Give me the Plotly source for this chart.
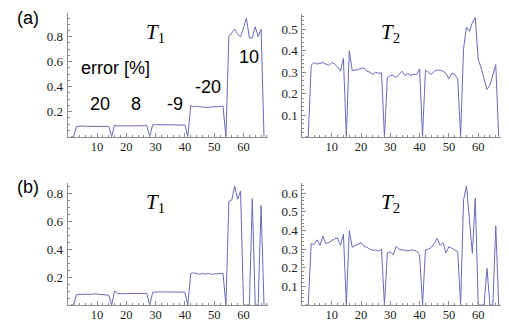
import plotly.graph_objects as go

# The page body has an 8px default margin, so the figure is offset by 8px.
OFF = 8
W, H = 509 - OFF, 322 - OFF

idx = list(range(1, 68))

t1_a = [0, 0,
        0.082, 0.085, 0.085, 0.083, 0.083, 0.085, 0.084, 0.087, 0.083, 0.082, 0.082, 0.082,
        0,
        0.092, 0.086, 0.088, 0.086, 0.087, 0.086, 0.087, 0.087, 0.088, 0.088, 0.088, 0.088,
        0,
        0.095, 0.097, 0.097, 0.097, 0.097, 0.097, 0.097, 0.097, 0.097, 0.096, 0.095, 0.093,
        0,
        0.25, 0.24, 0.245, 0.24, 0.235, 0.235, 0.235, 0.24, 0.24, 0.24, 0.24, 0.245,
        0,
        0.80, 0.83, 0.86, 0.82, 0.80, 0.87, 0.95, 0.79, 0.79, 0.88, 0.80, 0.86,
        0]

t2_a = [0, 0,
        0.333, 0.345, 0.338, 0.340, 0.345, 0.338, 0.332, 0.345, 0.338, 0.325, 0.305, 0.365,
        0,
        0.40, 0.308, 0.31, 0.312, 0.318, 0.32, 0.305, 0.30, 0.29, 0.30, 0.295, 0.298,
        0,
        0.275, 0.285, 0.285, 0.275, 0.29, 0.305, 0.285, 0.295, 0.285, 0.29, 0.29, 0.315,
        0,
        0.31, 0.30, 0.29, 0.305, 0.31, 0.31, 0.305, 0.295, 0.27, 0.295, 0.29, 0.27,
        0,
        0.41, 0.51, 0.49, 0.53, 0.555, 0.36, 0.32, 0.27, 0.22, 0.24, 0.29, 0.335,
        0]

t1_b = [0, 0,
        0.075, 0.077, 0.077, 0.077, 0.077, 0.075, 0.080, 0.078, 0.072, 0.072, 0.072, 0.070,
        0,
        0.10, 0.082, 0.080, 0.080, 0.080, 0.082, 0.083, 0.083, 0.085, 0.085, 0.085, 0.083,
        0,
        0.090, 0.093, 0.095, 0.094, 0.094, 0.093, 0.093, 0.093, 0.093, 0.093, 0.093, 0.092,
        0,
        0.225, 0.23, 0.225, 0.22, 0.225, 0.222, 0.225, 0.22, 0.222, 0.222, 0.225, 0.225,
        0,
        0.74, 0.75, 0.85, 0.755, 0.815, 0, 0, 0, 0.76, 0, 0, 0.71,
        0]

t2_b = [0, 0,
        0.33, 0.325, 0.35, 0.32, 0.37, 0.33, 0.335, 0.345, 0.355, 0.36, 0.32, 0.38,
        0,
        0.40, 0.31, 0.32, 0.325, 0.335, 0.315, 0.31, 0.30, 0.295, 0.295, 0.29, 0.30,
        0,
        0.28, 0.285, 0.27, 0.315, 0.30, 0.295, 0.295, 0.29, 0.295, 0.295, 0.29, 0.27,
        0,
        0.296, 0.30, 0.31, 0.33, 0.358, 0.32, 0.335, 0.28, 0.313, 0.305, 0.296, 0.287,
        0,
        0.565, 0.64, 0.46, 0.278, 0.573, 0, 0, 0, 0.197, 0, 0, 0.425,
        0]

x_ticks = [10, 20, 30, 40, 50, 60]
y_ticks_t1 = [0.2, 0.4, 0.6, 0.8]
y_ticks_t2a = [0.1, 0.2, 0.3, 0.4, 0.5]
y_ticks_t2b = [0.1, 0.2, 0.3, 0.4, 0.5, 0.6]
error_labels = ["20", "8", "-9", "-20", "10"]

LINE = "#6a6abb"
AX = "#8c8c8c"


def px_x(p):
    return (p - OFF) / W


def px_y(p):
    return 1 - (p - OFF) / H


panels = [
    (t1_a, (67.7, 268.4), (13, 136.7), 0.99, y_ticks_t1, 0.05),
    (t2_a, (302.4, 503.1), (14, 136.7), 0.571, y_ticks_t2a, 0.02),
    (t1_b, (67.7, 268.4), (182.7, 305), 0.874, y_ticks_t1, 0.05),
    (t2_b, (302.4, 503.1), (182.7, 305), 0.657, y_ticks_t2b, 0.02),
]

fig = go.Figure()
layout = {}
for i, (ser, (x0, x1), (ytop, ybot), ymax, yt, ymin_dt) in enumerate(panels, start=1):
    sfx = "" if i == 1 else str(i)
    fig.add_trace(go.Scatter(x=idx, y=ser, mode="lines",
                             line=dict(color=LINE, width=1),
                             xaxis="x" + sfx, yaxis="y" + sfx,
                             showlegend=False, hoverinfo="skip", cliponaxis=False))
    layout["xaxis" + sfx] = dict(
        domain=[px_x(x0), px_x(x1)], range=[0, 68.5], anchor="y" + sfx,
        tickvals=x_ticks, ticks="inside", ticklen=4, tickcolor=AX, tickwidth=1,
        minor=dict(ticks="inside", ticklen=2, dtick=2, tick0=0, tickcolor=AX, showgrid=False),
        showline=True, linecolor=AX, linewidth=1, showgrid=False, zeroline=False,
        tickfont=dict(family="Liberation Serif", size=12.5, color="#222"),
        ticklabelstandoff=-2,
        fixedrange=True)
    layout["yaxis" + sfx] = dict(
        domain=[px_y(ybot), px_y(ytop)], range=[0, ymax], anchor="x" + sfx,
        tickvals=yt, ticks="inside", ticklen=4, tickcolor=AX, tickwidth=1,
        minor=dict(ticks="inside", ticklen=2, dtick=ymin_dt, tick0=0, tickcolor=AX, showgrid=False),
        showline=True, linecolor=AX, linewidth=1, showgrid=False, zeroline=False,
        tickfont=dict(family="Liberation Serif", size=13, color="#222"),
        ticklabelstandoff=1,
        fixedrange=True)

annotations = []


def add_text(txt, cx, cy, size, family):
    annotations.append(dict(text=txt, x=px_x(cx), y=px_y(cy), xref="paper", yref="paper",
                            showarrow=False, xanchor="center", yanchor="middle",
                            font=dict(family=family, size=size, color="black")))


SANS = "Liberation Sans"
SERIF = "Liberation Serif"
add_text("(a)", 27.5, 17.5, 18, SANS)
add_text("(b)", 27.5, 186.5, 18, SANS)
add_text("<i>T</i><sub>1</sub>", 155, 33, 21, SERIF)
add_text("<i>T</i><sub>2</sub>", 390, 33, 21, SERIF)
add_text("<i>T</i><sub>1</sub>", 155, 203, 21, SERIF)
add_text("<i>T</i><sub>2</sub>", 390, 203, 21, SERIF)
add_text("error [%]", 115, 68, 18, SANS)
err_pos = [(100, 103.5), (135.5, 103.5), (175, 103.5), (207.5, 86.7), (248.5, 56.7)]
for lab, (cx, cy) in zip(error_labels, err_pos):
    add_text(lab, cx, cy, 18, SANS)

fig.update_layout(width=W, height=H, margin=dict(l=0, r=0, t=0, b=0),
                  paper_bgcolor="white", plot_bgcolor="white",
                  annotations=annotations, **layout)

fig.write_html("out.html")
